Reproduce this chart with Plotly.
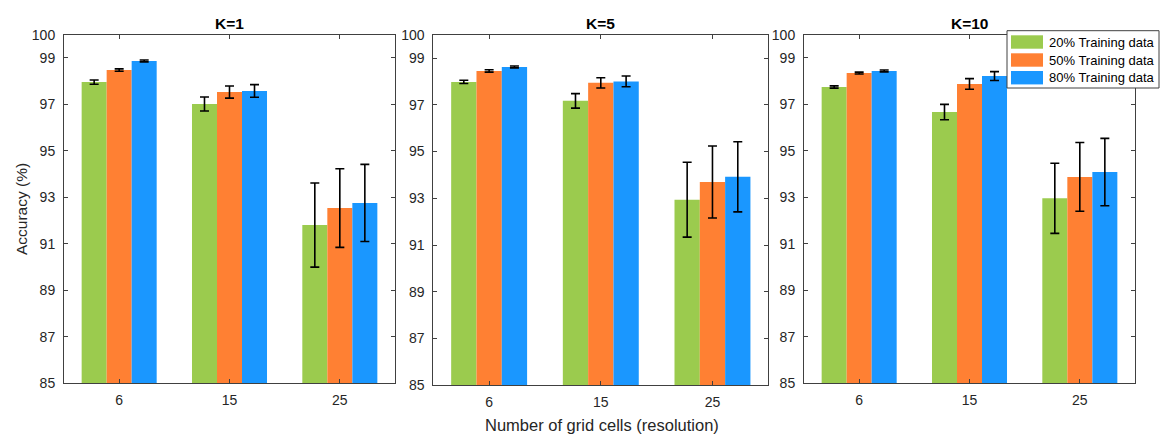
import plotly.graph_objects as go

# ---------------- data ----------------
categories = ["6", "15", "25"]
series_names = ["20% Training data", "50% Training data", "80% Training data"]
series_colors = ["#9BCB4E", "#FF8033", "#1A97FF"]
panel_titles = ["K=1", "K=5", "K=10"]
ytick_vals = [85, 87, 89, 91, 93, 95, 97, 99, 100]

# means per series (20%, 50%, 80%) for each K
k1_mean = [[97.96, 97.02, 91.81], [98.48, 97.53, 92.54], [98.87, 97.58, 92.76]]
k1_err = [[0.09, 0.30, 1.81], [0.05, 0.26, 1.69], [0.04, 0.27, 1.66]]
k5_mean = [[97.98, 97.17, 92.94], [98.45, 97.94, 93.70], [98.62, 98.00, 93.92]]
k5_err = [[0.07, 0.31, 1.60], [0.05, 0.22, 1.54], [0.04, 0.23, 1.50]]
k10_mean = [[97.75, 96.67, 92.96], [98.35, 97.88, 93.88], [98.44, 98.22, 94.09]]
k10_err = [[0.05, 0.33, 1.51], [0.04, 0.23, 1.48], [0.04, 0.19, 1.45]]

panel_means = [k1_mean, k5_mean, k10_mean]
panel_errs = [k1_err, k5_err, k10_err]

# ---------------- layout geometry (pixels) ----------------
W, H = 1163, 434
panel_x = [(64, 395), (433.3, 768.3), (804, 1135)]
panel_y = [(34.7, 383.3), (34.7, 385.3), (34.7, 383.3)]

FONT = "Liberation Sans, Arial, Helvetica, sans-serif"
TXT = "#262626"
AXC = "#404040"

fig = go.Figure()

for p in range(3):
    sfx = "" if p == 0 else str(p + 1)
    for s in range(3):
        fig.add_trace(go.Bar(
            x=categories,
            y=panel_means[p][s],
            name=series_names[s],
            marker=dict(color=series_colors[s], line=dict(width=0)),
            error_y=dict(type="data", array=panel_errs[p][s], visible=True,
                         color="black", thickness=1.6, width=4.5),
            xaxis="x" + sfx, yaxis="y" + sfx,
            offsetgroup=str(s),
            showlegend=False,
        ))

layout = dict(
    template="none",
    width=W, height=H, autosize=False,
    margin=dict(l=0, r=0, t=0, b=0, pad=0, autoexpand=False),
    paper_bgcolor="white", plot_bgcolor="white",
    barmode="group", bargap=0.32, bargroupgap=0,
    font=dict(family=FONT, color=TXT, size=14),
    showlegend=False,
)

annotations = []
shapes = []
for p in range(3):
    sfx = "" if p == 0 else str(p + 1)
    x0, x1 = panel_x[p]
    yt, yb = panel_y[p]
    layout["xaxis" + sfx] = dict(
        domain=[x0 / W, x1 / W], anchor="y" + sfx, automargin=False,
        type="category", range=[-0.5, 2.5],
        showline=True, linecolor=AXC, linewidth=1, mirror="ticks",
        ticks="inside", ticklen=4, tickcolor=AXC, tickwidth=1,
        showgrid=False, zeroline=False,
        tickfont=dict(size=14, color=TXT), ticklabelstandoff=4,
    )
    layout["yaxis" + sfx] = dict(
        domain=[1 - yb / H, 1 - yt / H], anchor="x" + sfx, automargin=False,
        range=[85, 100], tickvals=ytick_vals,
        ticktext=[str(v) for v in ytick_vals],
        showline=True, linecolor=AXC, linewidth=1, mirror="ticks",
        ticks="inside", ticklen=4, tickcolor=AXC, tickwidth=1,
        showgrid=False, zeroline=False,
        tickfont=dict(size=14, color=TXT), ticklabelstandoff=5,
    )
    annotations.append(dict(
        text="<b>" + panel_titles[p] + "</b>", xref="paper", yref="paper",
        x=(x0 + x1) / 2 / W, y=1 - 23 / H, xanchor="center", yanchor="middle",
        showarrow=False, font=dict(size=15.5, color="black", family=FONT),
    ))

annotations.append(dict(
    text="Accuracy (%)", xref="paper", yref="paper",
    x=21 / W, y=1 - 209 / H, textangle=-90,
    xanchor="center", yanchor="middle", showarrow=False,
    font=dict(size=15.5, color=TXT, family=FONT),
))
annotations.append(dict(
    text="Number of grid cells (resolution)", xref="paper", yref="paper",
    x=602 / W, y=1 - 425 / H, xanchor="center", yanchor="middle",
    showarrow=False, font=dict(size=16.5, color=TXT, family=FONT),
))

# legend box (MATLAB style)
lx0, lx1, ly0, ly1 = 1007, 1159, 30.7, 88
shapes.append(dict(type="rect", xref="paper", yref="paper", layer="above",
                   x0=lx0 / W, x1=lx1 / W, y0=1 - ly1 / H, y1=1 - ly0 / H,
                   fillcolor="white", line=dict(color=AXC, width=1)))
row_centers = [42, 60, 77.7]
for s in range(3):
    rc = row_centers[s]
    shapes.append(dict(type="rect", xref="paper", yref="paper", layer="above",
                       x0=1011 / W, x1=1043 / W,
                       y0=1 - (rc + 6.7) / H, y1=1 - (rc - 6.7) / H,
                       fillcolor=series_colors[s], line=dict(width=0)))
    annotations.append(dict(
        text=series_names[s], xref="paper", yref="paper",
        x=1047 / W, y=1 - rc / H, xanchor="left", yanchor="middle",
        showarrow=False, font=dict(size=13, color="black", family=FONT),
    ))

layout["annotations"] = annotations
layout["shapes"] = shapes
fig.update_layout(**layout)

fig.write_html(
    "out.html",
    config={"displayModeBar": False},
    post_script="document.body.style.margin='0';document.body.style.padding='0';"
                "document.body.style.overflow='hidden';"
                "document.documentElement.style.overflow='hidden';",
)
